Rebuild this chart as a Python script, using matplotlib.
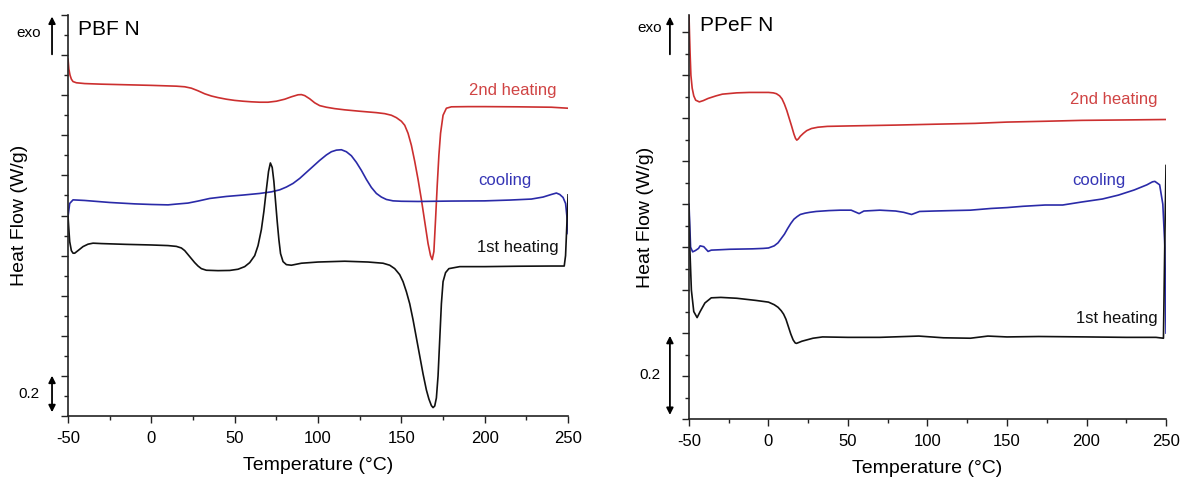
import matplotlib
matplotlib.use("Agg")
import matplotlib.pyplot as plt
import matplotlib.transforms as mtransforms
from matplotlib.ticker import MultipleLocator

plt.rcParams['font.family'] = ['Liberation Sans', 'DejaVu Sans']
plt.rcParams['axes.unicode_minus'] = False

# PBF N curves (temperature in degC, heat flow in W/g, offset)
pbf_heat2_T = [-50, -49.5, -48.8, -48, -47, -45, -40, -30, -15, 0, 15, 20, 24, 28, 32, 36, 40, 45, 50,
               55, 60, 65, 70, 75, 80, 84, 88, 90, 92, 95, 98, 101, 105, 110, 116, 125, 135, 140, 144,
               147, 150, 152, 154, 156, 158, 160, 162, 164, 166, 167.5, 168.5, 169.5, 170.5, 171.5,
               172.5, 173.5, 175, 177, 180, 190, 200, 220, 240, 250]
pbf_heat2 = [1.78, 1.73, 1.70, 1.68, 1.668, 1.662, 1.658, 1.655, 1.652, 1.649, 1.645, 1.642, 1.635,
             1.622, 1.607, 1.596, 1.588, 1.580, 1.574, 1.570, 1.567, 1.565, 1.565, 1.570, 1.580, 1.592,
             1.602, 1.603, 1.598, 1.582, 1.562, 1.548, 1.540, 1.533, 1.527, 1.520, 1.513, 1.508,
             1.500, 1.488, 1.470, 1.45, 1.41, 1.35, 1.27, 1.18, 1.08, 0.97, 0.86, 0.80, 0.78, 0.82,
             0.98, 1.15, 1.30, 1.41, 1.50, 1.535, 1.542, 1.543, 1.543, 1.542, 1.540, 1.535]

pbf_cool_T = [250, 249.5, 248.5, 247, 245, 243, 240, 235, 228, 215, 200, 180, 160, 150, 145, 141, 138,
              135, 132, 129, 126, 123, 120, 117, 114, 111, 108, 105, 101, 97, 93, 89, 85, 81, 77, 72,
              65, 55, 45, 35, 28, 22, 15, 10, 0, -10, -25, -40, -47, -49, -50]
pbf_cool = [0.91, 0.98, 1.06, 1.09, 1.105, 1.112, 1.105, 1.092, 1.082, 1.077, 1.073, 1.072, 1.07,
            1.071, 1.073, 1.08, 1.092, 1.11, 1.14, 1.18, 1.225, 1.265, 1.298, 1.318, 1.328, 1.326,
            1.318, 1.302, 1.275, 1.245, 1.215, 1.185, 1.16, 1.142, 1.128, 1.118, 1.11, 1.102, 1.095,
            1.085, 1.072, 1.062, 1.057, 1.053, 1.055, 1.058, 1.065, 1.075, 1.078, 1.06, 0.995]

pbf_heat1_T = [-50, -49.5, -49, -48, -47, -46, -44, -41, -38, -35, -30, -15, 0, 10, 15, 18, 20, 22, 24,
               26, 28, 30, 33, 40, 47, 52, 56, 59, 62, 64, 66, 67.5, 69, 70.3, 71.4, 72.5, 73.5, 74.5,
               75.5, 76.5, 77.5, 79, 81, 84, 90, 100, 116, 130, 139, 143, 146, 149, 151, 153, 155, 157,
               159, 161, 163, 165, 166.5, 168, 169, 170, 171, 172, 173, 174, 175, 176.5, 178.5, 185,
               200, 220, 240, 247.7, 248.5, 249.5, 250]
pbf_heat1 = [0.995, 0.93, 0.87, 0.825, 0.812, 0.812, 0.825, 0.845, 0.857, 0.862, 0.86, 0.856, 0.853,
             0.85, 0.846, 0.838, 0.825, 0.805, 0.785, 0.765, 0.748, 0.735, 0.727, 0.725, 0.726, 0.732,
             0.745, 0.765, 0.80, 0.85, 0.93, 1.02, 1.13, 1.22, 1.262, 1.24, 1.17, 1.07, 0.97, 0.88,
             0.81, 0.77, 0.755, 0.752, 0.762, 0.768, 0.772, 0.768, 0.762, 0.752, 0.735, 0.705, 0.67,
             0.62, 0.56, 0.48, 0.39, 0.30, 0.21, 0.13, 0.085, 0.052, 0.042, 0.05, 0.09, 0.2, 0.38,
             0.56, 0.67, 0.715, 0.735, 0.745, 0.745, 0.747, 0.748, 0.748, 0.80, 1.0, 1.103]

# PPeF N curves
ppef_heat2_T = [-50, -49.7, -49.3, -48.8, -48, -47, -45.8, -43.5, -41, -38, -33, -29, -20, -12, -5, 0,
                3, 5, 7, 8.5, 10, 11.5, 13, 14.5, 16, 17, 17.8, 18.8, 20, 22, 24, 27, 31, 37, 50, 80,
                104, 130, 150, 175, 197, 225, 250]
ppef_heat2 = [0.94, 0.90, 0.85, 0.80, 0.77, 0.752, 0.742, 0.738, 0.741, 0.746, 0.752, 0.756, 0.759,
              0.760, 0.760, 0.760, 0.759, 0.757, 0.752, 0.745, 0.733, 0.718, 0.70, 0.682, 0.663, 0.653,
              0.649, 0.652, 0.658, 0.665, 0.671, 0.676, 0.679, 0.681, 0.682, 0.684, 0.686, 0.688,
              0.691, 0.693, 0.695, 0.696, 0.697]

ppef_cool_T = [250, 249.3, 248, 246, 243, 241.5, 238, 230, 220, 210, 197, 185, 174, 160, 150, 140, 127,
               115, 104, 95, 90, 85, 80, 70, 60, 57, 52, 45, 38, 30, 26, 23, 20, 18, 16, 14, 12, 10, 8,
               6, 3.6, 0, -3.4, -10, -24.4, -30, -36, -38, -40.7, -43, -44, -46, -47.7, -49, -50]
ppef_cool = [0.20, 0.40, 0.50, 0.545, 0.553, 0.552, 0.545, 0.533, 0.521, 0.512, 0.505, 0.498, 0.498,
             0.495, 0.492, 0.490, 0.486, 0.485, 0.484, 0.483, 0.476, 0.481, 0.484, 0.486, 0.484, 0.478,
             0.486, 0.486, 0.485, 0.483, 0.481, 0.479, 0.476, 0.471, 0.465, 0.455, 0.443, 0.43, 0.42,
             0.41, 0.403, 0.398, 0.397, 0.396, 0.395, 0.394, 0.393, 0.390, 0.401, 0.403, 0.397, 0.392,
             0.389, 0.40, 0.50]

ppef_heat1_T = [-50, -49.5, -48.5, -47, -44.9, -43, -40, -36, -30, -20, -8, 0, 3.6, 6, 8, 9.5, 11,
                12.5, 14, 15.5, 16.8, 17.6, 19, 21, 24, 28, 34, 50, 70, 94.5, 110, 127, 138, 150, 170,
                200, 225, 243.7, 248.4, 249.2, 250]
ppef_heat1 = [0.494, 0.40, 0.30, 0.25, 0.236, 0.25, 0.27, 0.282, 0.283, 0.281, 0.276, 0.272, 0.266,
              0.26, 0.252, 0.244, 0.232, 0.215, 0.198, 0.184, 0.177, 0.176, 0.178, 0.181, 0.184, 0.188,
              0.191, 0.190, 0.190, 0.193, 0.189, 0.188, 0.193, 0.191, 0.192, 0.191, 0.190, 0.190,
              0.188, 0.40, 0.59]

RED, BLUE, BLACK = '#cc2f2f', '#2a2aa8', '#111111'

fig = plt.figure(figsize=(11.81, 4.82), dpi=100)
ax1 = fig.add_axes([0.0576, 0.1369, 0.4234, 0.832])
ax2 = fig.add_axes([0.5834, 0.1307, 0.4039, 0.838])


def style(ax, ylim, major):
    ax.set_xlim(-50, 250)
    ax.set_ylim(*ylim)
    for s in ('top', 'right'):
        ax.spines[s].set_visible(False)
    for s in ('left', 'bottom'):
        ax.spines[s].set_linewidth(1.2)
        ax.spines[s].set_color('#222222')
    ax.xaxis.set_major_locator(MultipleLocator(50))
    ax.xaxis.set_minor_locator(MultipleLocator(25))
    ax.yaxis.set_major_locator(MultipleLocator(major))
    ax.yaxis.set_minor_locator(MultipleLocator(major / 2))
    ax.tick_params(which='both', direction='out', color='#222222', width=1.0)
    ax.tick_params(which='major', length=5)
    ax.tick_params(which='minor', length=3)
    ax.tick_params(axis='x', labelsize=12, pad=6)
    ax.set_yticklabels([])
    ax.set_xlabel('Temperature (°C)', fontsize=14, labelpad=8)
    ax.set_ylabel('Heat Flow (W/g)', fontsize=14)


def arrows(ax, exo_x, exo_y, scale_y, txt_x, exo_txt_y):
    tr = mtransforms.blended_transform_factory(ax.transAxes, ax.transData)
    ax.annotate('', xy=(exo_x, 1.003), xytext=(exo_x, exo_y), xycoords='axes fraction',
                arrowprops=dict(arrowstyle='-|>', color='black', lw=1.3, mutation_scale=10),
                annotation_clip=False)
    ax.text(txt_x, exo_txt_y, 'exo', transform=ax.transAxes, fontsize=11, ha='center', va='center')
    ax.annotate('', xy=(exo_x, scale_y[0]), xytext=(exo_x, scale_y[1]), xycoords=tr,
                arrowprops=dict(arrowstyle='<|-|>', color='black', lw=1.3, mutation_scale=10),
                annotation_clip=False)
    ax.text(txt_x, (scale_y[0] + scale_y[1]) / 2, '0.2', transform=tr, fontsize=11,
            ha='center', va='center')


# left panel: PBF N
style(ax1, (0, 2.0), 0.2)
ax1.plot(pbf_heat2_T, pbf_heat2, color=RED, lw=1.2)
ax1.plot(pbf_cool_T, pbf_cool, color=BLUE, lw=1.2)
ax1.plot(pbf_heat1_T, pbf_heat1, color=BLACK, lw=1.2)
ax1.text(0.02, 0.963, 'PBF N', transform=ax1.transAxes, fontsize=15, ha='left', va='center')
ax1.text(217, 1.625, '2nd heating', color='#d04444', fontsize=12, ha='center', va='center')
ax1.text(212, 1.175, 'cooling', color='#3535b5', fontsize=12, ha='center', va='center')
ax1.text(219.6, 0.84, '1st heating', color=BLACK, fontsize=12, ha='center', va='center')
ax1.yaxis.set_label_coords(-0.08, 0.5)
arrows(ax1, -0.032, 0.895, (0.005, 0.215), -0.078, 0.955)

# right panel: PPeF N
style(ax2, (0, 0.94), 0.1)
ax2.plot(ppef_heat2_T, ppef_heat2, color=RED, lw=1.2)
ax2.plot(ppef_cool_T, ppef_cool, color=BLUE, lw=1.2)
ax2.plot(ppef_heat1_T, ppef_heat1, color=BLACK, lw=1.2)
ax2.text(0.023, 0.975, 'PPeF N', transform=ax2.transAxes, fontsize=15, ha='left', va='center')
ax2.text(217, 0.744, '2nd heating', color='#d04444', fontsize=12, ha='center', va='center')
ax2.text(208, 0.556, 'cooling', color='#3535b5', fontsize=12, ha='center', va='center')
ax2.text(219, 0.235, '1st heating', color=BLACK, fontsize=12, ha='center', va='center')
ax2.yaxis.set_label_coords(-0.073, 0.5)
arrows(ax2, -0.040, 0.896, (0.003, 0.2), -0.082, 0.968)

fig.savefig('out.png', dpi=100)
